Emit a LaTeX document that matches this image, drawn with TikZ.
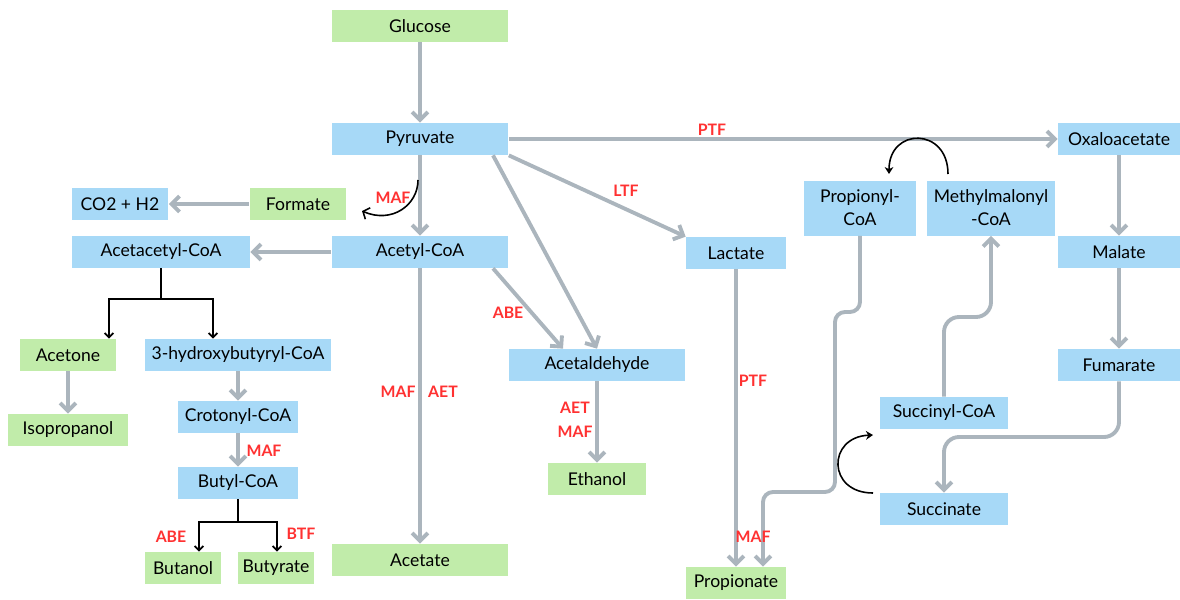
\documentclass[tikz,border=0pt]{standalone}
\usepackage{fontspec}
\setmainfont{Lato}
\usepackage{xcolor}
\usepackage{tikz}
\usetikzlibrary{arrows.meta, positioning, calc}
\definecolor{pathblue}{RGB}{167, 217, 247}
\definecolor{pathgreen}{RGB}{193, 236, 170}
\definecolor{pathgray}{RGB}{171, 181, 189}
\definecolor{enzred}{RGB}{255, 49, 49}
\tikzstyle{bluebox} = [
    rectangle,
    minimum height=0.64cm,
    inner sep=0pt,
    text centered,
    align=center,
    fill=pathblue,
    font=\fontsize{10}{13}\selectfont
]
\tikzstyle{greenbox} = [
    bluebox,
    fill=pathgreen
]
\tikzstyle{arrow} = [
    line width=2.2pt,
    -{Straight Barb[length=4.5pt,width=9pt]},
    color=pathgray
]
\tikzstyle{branch} = [
    line width=1pt,
    -{Straight Barb[length=2.5pt,width=5pt]},
    color=black
]
\tikzstyle{turn} = [
    line width=0.9pt,
    -{Stealth[length=4pt,width=5pt]},
    color=black
]
\tikzstyle{enzyme} = [
    text=enzred,
    font=\fontsize{9}{10}\selectfont\bfseries
]

\begin{document}
\begin{tikzpicture}[x=0.02cm, y=-0.02cm]
        \useasboundingbox (0,0) rectangle (1180,599);
        % Central column
        \node[greenbox, minimum width=3.54cm] (glucose) at (420, 26) {Glucose};
        \node[bluebox, minimum width=3.54cm] (pyruvate) at (420, 139) {Pyruvate};
        \node[bluebox, minimum width=3.54cm] (acetyl) at (420, 252) {Acetyl-CoA};
        \node[greenbox, minimum width=3.54cm] (acetate) at (420, 560) {Acetate};
        \node[greenbox, minimum width=1.94cm] (formate) at (298, 204) {Formate};
        \node[bluebox, minimum width=1.94cm] (co2) at (120, 204) {CO2 + H2};

        % Butanol branch
        \node[bluebox, minimum width=3.56cm] (acetacetyl) at (161, 252) {Acetacetyl-CoA};
        \node[greenbox, minimum width=1.92cm] (acetone) at (68, 355) {Acetone};
        \node[greenbox, minimum width=2.4cm] (isopropanol) at (68, 430) {Isopropanol};
        \node[bluebox, minimum width=3.72cm] (hydroxy) at (238, 355) {3-hydroxybutyryl-CoA};
        \node[bluebox, minimum width=2.4cm] (crotonyl) at (238, 417) {Crotonyl-CoA};
        \node[bluebox, minimum width=2.4cm] (butyl) at (238, 483) {Butyl-CoA};
        \node[greenbox, minimum width=1.52cm] (butanol) at (183, 568) {Butanol};
        \node[greenbox, minimum width=1.52cm] (butyrate) at (276, 568) {Butyrate};

        % Ethanol and lactate
        \node[bluebox, minimum width=3.54cm] (acetaldehyde) at (597, 365) {Acetaldehyde};
        \node[greenbox, minimum width=1.96cm] (ethanol) at (597, 479) {Ethanol};
        \node[bluebox, minimum width=2cm] (lactate) at (736, 253) {Lactate};
        \node[greenbox, minimum width=2cm] (propionate) at (736, 583) {Propionate};

        % Succinate pathway
        \node[bluebox, minimum width=2.44cm] (oxaloacetate) at (1119, 139) {Oxaloacetate};
        \node[bluebox, minimum width=2.44cm] (malate) at (1119, 252) {Malate};
        \node[bluebox, minimum width=2.44cm] (fumarate) at (1119, 365) {Fumarate};
        \node[bluebox, minimum width=2.58cm] (succinate) at (944, 509) {Succinate};
        \node[bluebox, minimum width=2.58cm] (succinyl) at (944, 413) {Succinyl-CoA};
        \node[bluebox, minimum width=2.58cm, minimum height=1.1cm] (methylmalonyl) at (991, 208) {Methylmalonyl\\-CoA};
        \node[bluebox, minimum width=2.26cm, minimum height=1.1cm] (propionyl) at (860, 208) {Propionyl-\\CoA};

        % Arrows
        \draw[arrow] (glucose) -- (pyruvate);
        \draw[arrow] (pyruvate) -- (acetyl);
        \draw[arrow] (pyruvate) -- (oxaloacetate);
        \draw[arrow] (pyruvate.south east) -- (lactate.north west);
        \draw[arrow] ($(pyruvate.south)+(73,0)$) -- (acetaldehyde.north);
        \draw[arrow] ($(acetyl.south)+(73,0)$) -- ($(acetaldehyde.north)+(-34,0)$);
        \draw[arrow] (acetyl) -- (acetate);
        \draw[arrow] (acetyl) -- (acetacetyl);
        \draw[arrow] (formate) -- (co2);
        \draw[arrow] (acetone) -- (isopropanol);
        \draw[arrow] (hydroxy) -- (crotonyl);
        \draw[arrow] (crotonyl) -- (butyl);
        \draw[arrow] (acetaldehyde) -- (ethanol);
        \draw[arrow] (lactate) -- (propionate);
        \draw[arrow] (oxaloacetate) -- (malate);
        \draw[arrow] (malate) -- (fumarate);
        \draw[arrow, rounded corners=0.2cm] (propionyl.south) -- (860,312) -- (835,312) -- (835,492) -- (763,492) -- ($(propionate.north)+(27,0)$);
        \draw[arrow, rounded corners=0.3cm] (succinyl.north) -- (944,317) -- (991,317) -- (methylmalonyl.south);
        \draw[arrow, rounded corners=0.3cm] (fumarate.south) -- (1119,437) -- (944,437) -- (succinate.north);

        % Branches
        \coordinate (split1) at (161, 299);
        \coordinate (split2) at (238, 522);
        \draw[line width=1pt] (acetacetyl.south) -- (split1);
        \draw[branch] (split1) -| ($(acetone.north)+(41,0)$);
        \draw[branch] (split1) -| ($(hydroxy.north)+(-25,0)$);
        \draw[line width=1pt] (butyl.south) -- (split2);
        \draw[branch] (split2) -| ($(butanol.north)+(16,0)$);
        \draw[branch] (split2) -| ($(butyrate.north)+(1,0)$);

        % Curved steps
        \coordinate (mafstart) at (418, 180);
        \coordinate (mafend) at (362, 211);
        \draw[turn, -{Straight Barb[length=3pt,width=7pt]}] (mafstart) .. controls (418, 205) and (392, 224) .. (mafend);
        \coordinate (mmstart) at (948, 174);
        \coordinate (mmend) at (889, 174);
        \draw[turn] (mmstart) .. controls (948, 127) and (889, 127) .. (mmend);
        \coordinate (sucstart) at (873, 493);
        \coordinate (sucend) at (873, 435);
        \draw[turn] (sucstart) .. controls (827, 493) and (827, 437) .. (sucend);

        % Enzyme labels
        \node[enzyme] (l1) at (712, 130) {PTF};
        \node[enzyme] (l2) at (626, 191) {LTF};
        \node[enzyme] (l3) at (393, 198) {MAF};
        \node[enzyme] (l4) at (508, 313) {ABE};
        \node[enzyme] (l5) at (398, 392) {MAF};
        \node[enzyme] (l6) at (443, 392) {AET};
        \node[enzyme] (l7) at (575, 408) {AET};
        \node[enzyme] (l8) at (575, 432) {MAF};
        \node[enzyme] (l9) at (753, 381) {PTF};
        \node[enzyme] (l10) at (753, 537) {MAF};
        \node[enzyme] (l11) at (264, 451) {MAF};
        \node[enzyme] (l12) at (171, 537) {ABE};
        \node[enzyme] (l13) at (301, 534) {BTF};
    \end{tikzpicture}
\end{document}
